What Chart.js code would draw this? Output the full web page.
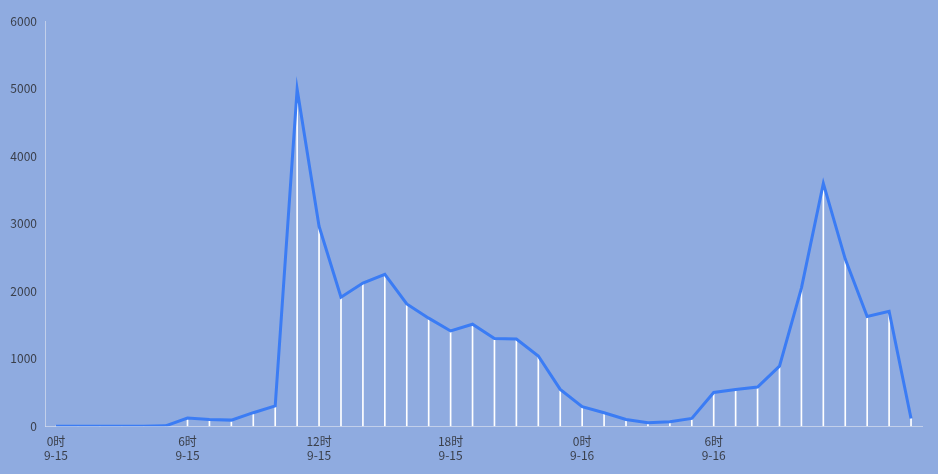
<!DOCTYPE html>
<html>
<head>
<meta charset="utf-8">
<script src="https://cdn.jsdelivr.net/npm/chart.js@4/dist/chart.umd.min.js"></script>
<style>
  html, body { margin: 0; padding: 0; background: #8fabe0; }
  #wrap { width: 938px; height: 474px; }
</style>
</head>
<body>
<div id="wrap"><canvas id="myChart"></canvas></div>
<script>
// hourly points, 0时 9-15 .. 15时 9-16
let hours = []
let days = []
for (let i = 0; i < 40; i++) {
    hours.push((i % 24) + '时')
    days.push(i < 24 ? '9-15' : '9-16')
}
let values = [0, 0, 0, 0, 0, 5, 120, 100, 90, 200,
    300, 4990, 2960, 1910, 2120, 2250, 1810, 1600, 1410, 1510,
    1300, 1290, 1040, 545, 290, 200, 100, 50, 65, 115,
    500, 545, 580, 890, 2045, 3595, 2475, 1625, 1700, 115]
let yTicks = [0, 1000, 2000, 3000, 4000, 5000, 6000]

let lineColor = '#3b7cf4'
let axisColor = 'rgba(215,222,238,0.7)'

let ctx = document.getElementById('myChart').getContext('2d')
Chart.defaults.font.family = '"Noto Sans CJK SC", "Noto Sans", sans-serif'
Chart.defaults.font.size = 12
Chart.defaults.color = '#3a3f4a'

let myChart = new Chart(ctx, {
    data: {
        labels: hours,
        datasets: [
            {
                type: 'line',
                data: values,
                borderColor: lineColor,
                borderWidth: 3,
                pointRadius: 0,
                tension: 0,
                order: 1,
            },
            {
                type: 'bar',
                data: values,
                backgroundColor: '#ffffff',
                barThickness: 1,
                order: 2,
            },
        ],
    },
    options: {
        responsive: true,
        maintainAspectRatio: false,
        animation: false,
        layout: {
            padding: { top: 21, right: 16, left: 0, bottom: 11 },
        },
        plugins: {
            legend: { display: false },
            tooltip: { enabled: false },
        },
        scales: {
            x: {
                offset: true,
                grid: { display: false },
                border: { display: true, color: axisColor, width: 1 },
                ticks: {
                    autoSkip: false,
                    maxRotation: 0,
                    padding: 0,
                    callback: (value, index) => {
                        if (index % 6 !== 0 || index === 36) return ''
                        return [hours[index], days[index]]
                    },
                },
            },
            y: {
                min: 0,
                max: 6000,
                afterFit: (scale) => { scale.width = 45 },
                afterBuildTicks: (scale) => {
                    scale.ticks = yTicks.map((v) => ({ value: v }))
                },
                grid: { display: false },
                border: { display: true, color: axisColor, width: 1 },
                ticks: {
                    padding: 0,
                    callback: (value) => String(value),
                },
            },
        },
    },
})
</script>
</body>
</html>
